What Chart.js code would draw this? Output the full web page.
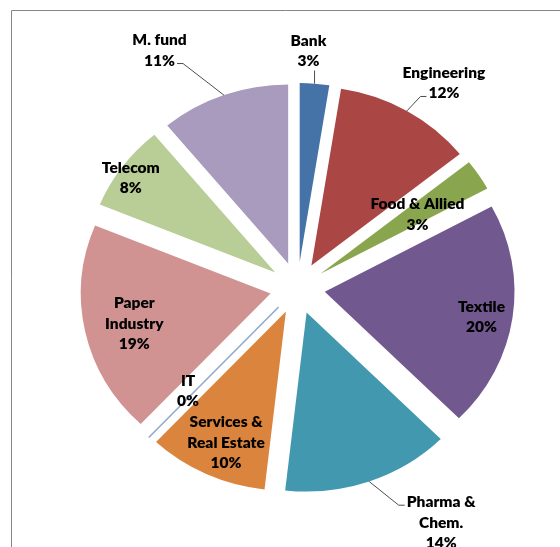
<!DOCTYPE html>
<html>
<head>
<meta charset="utf-8">
<script src="https://cdn.jsdelivr.net/npm/chart.js@4.4.1/dist/chart.umd.min.js"></script>
<style>
  html, body { margin: 0; padding: 0; background: #fff; }
  #wrap { position: relative; width: 560px; height: 547px; }
</style>
</head>
<body>
<div id="wrap"><canvas id="pieChart" width="560" height="547"></canvas></div>
<script>
// Data
const categories = [
  ["Bank"],
  ["Engineering"],
  ["Food & Allied"],
  ["Textile"],
  ["Pharma &", "Chem."],
  ["Services &", "Real Estate"],
  ["IT"],
  ["Paper", "Industry"],
  ["Telecom"],
  ["M. fund"],
];
// shares (labels round them)
const shares = [2.5, 11.8, 2.8, 20.4, 14.3, 10.2, 0, 19.2, 7.8, 11.0];
const sliceColors = [
  "#4572A7", "#AA4643", "#89A54E", "#71588F", "#4198AF",
  "#DB843D", "#93A9CF", "#D19392", "#B9CD96", "#A99BBD",
];

// label placement: distance from pie centre, degrees clockwise from top,
// and which side of the text a leader line attaches to
const labelPlace = [
  { r: 237, deg: 2.5, leader: "bottom" },
  { r: 247, deg: 34, leader: "left" },
  { r: 135, deg: 57, leader: null },
  { r: 176, deg: 99.5, leader: null },
  { r: 271, deg: 150, leader: "left" },
  { r: 169, deg: 203.5, leader: null },
  { r: 146, deg: 225, leader: null },
  { r: 158, deg: 257, leader: null },
  { r: 192, deg: 305, leader: null },
  { r: 271, deg: 331.3, leader: "right" },
];

const EXPLODE = 26;   // slice explosion, px
const STRETCH = 1.06; // the original pie is slightly wider than tall
const RADIUS = 179;
const LINE_H = 20.5;
const LABEL_FONT = "800 15.5px Lato";

const frame = {
  id: "frame",
  beforeDraw(chart) {
    const ctx = chart.ctx;
    ctx.save();
    ctx.strokeStyle = "#868686";
    ctx.lineWidth = 1;
    ctx.beginPath();
    ctx.moveTo(11.5, chart.height);
    ctx.lineTo(11.5, 10.5);
    ctx.lineTo(chart.width, 10.5);
    ctx.stroke();
    ctx.restore();
  },
};

// draw every arc pushed out along its middle angle
const explodedPie = {
  id: "explodedPie",
  beforeDatasetDraw(chart, args) {
    const ctx = chart.ctx;
    args.meta.data.forEach((arc) => {
      const mid = (arc.startAngle + arc.endAngle) / 2;
      ctx.save();
      ctx.translate(arc.x, arc.y);
      ctx.scale(STRETCH, 1);
      ctx.translate(Math.cos(mid) * EXPLODE, Math.sin(mid) * EXPLODE);
      ctx.translate(-arc.x, -arc.y);
      if (arc.endAngle - arc.startAngle === 0) {
        // zero slice shows as a thin line
        ctx.strokeStyle = arc.options.backgroundColor;
        ctx.lineWidth = 1.5;
        ctx.beginPath();
        ctx.moveTo(arc.x, arc.y);
        ctx.lineTo(
          arc.x + Math.cos(mid) * arc.outerRadius,
          arc.y + Math.sin(mid) * arc.outerRadius
        );
        ctx.stroke();
      } else {
        arc.draw(ctx);
      }
      ctx.restore();
    });
    return false;
  },
};

const sliceLabels = {
  id: "sliceLabels",
  afterDraw(chart) {
    const ctx = chart.ctx;
    const arcs = chart.getDatasetMeta(0).data;
    const total = shares.reduce((a, b) => a + b, 0);
    ctx.save();
    ctx.font = LABEL_FONT;
    ctx.textAlign = "center";
    ctx.textBaseline = "middle";
    arcs.forEach((arc, i) => {
      const place = labelPlace[i];
      const th = (place.deg * Math.PI) / 180;
      const lx = arc.x + STRETCH * place.r * Math.sin(th);
      const ly = arc.y - place.r * Math.cos(th);
      const lines = categories[i].concat(Math.round((shares[i] / total) * 100) + "%");
      const top = ly - ((lines.length - 1) * LINE_H) / 2;
      ctx.fillStyle = "#000";
      lines.forEach((t, k) => ctx.fillText(t, lx, top + k * LINE_H));

      if (!place.leader) return;
      const mid = (arc.startAngle + arc.endAngle) / 2;
      const ex = arc.x + STRETCH * Math.cos(mid) * (EXPLODE + arc.outerRadius);
      const ey = arc.y + Math.sin(mid) * (EXPLODE + arc.outerRadius);
      const k = ey > ly ? lines.length - 1 : 0;
      const w = ctx.measureText(lines[k]).width;
      const lineY = top + k * LINE_H;
      ctx.strokeStyle = "#4d4d4d";
      ctx.lineWidth = 1;
      ctx.beginPath();
      ctx.moveTo(ex, ey);
      if (place.leader === "bottom") {
        const ax = Math.min(Math.max(ex, lx - w / 2), lx + w / 2);
        ctx.lineTo(ax, lineY + 9);
      } else {
        const dir = place.leader === "left" ? -1 : 1;
        const ax = lx + dir * (w / 2 + 2);
        ctx.lineTo(ax + dir * 6, lineY + 3);
        ctx.lineTo(ax, lineY + 3);
      }
      ctx.stroke();
    });
    ctx.restore();
  },
};

new Chart(document.getElementById("pieChart").getContext("2d"), {
  type: "pie",
  data: {
    labels: categories,
    datasets: [
      {
        data: shares,
        backgroundColor: sliceColors,
        borderWidth: 0,
        radius: RADIUS,
      },
    ],
  },
  options: {
    responsive: false,
    animation: false,
    events: [],
    layout: {
      padding: { left: 35, top: 29, right: 0, bottom: 0 },
    },
    plugins: {
      legend: { display: false },
      tooltip: { enabled: false },
    },
  },
  plugins: [frame, explodedPie, sliceLabels],
});
</script>
</body>
</html>
